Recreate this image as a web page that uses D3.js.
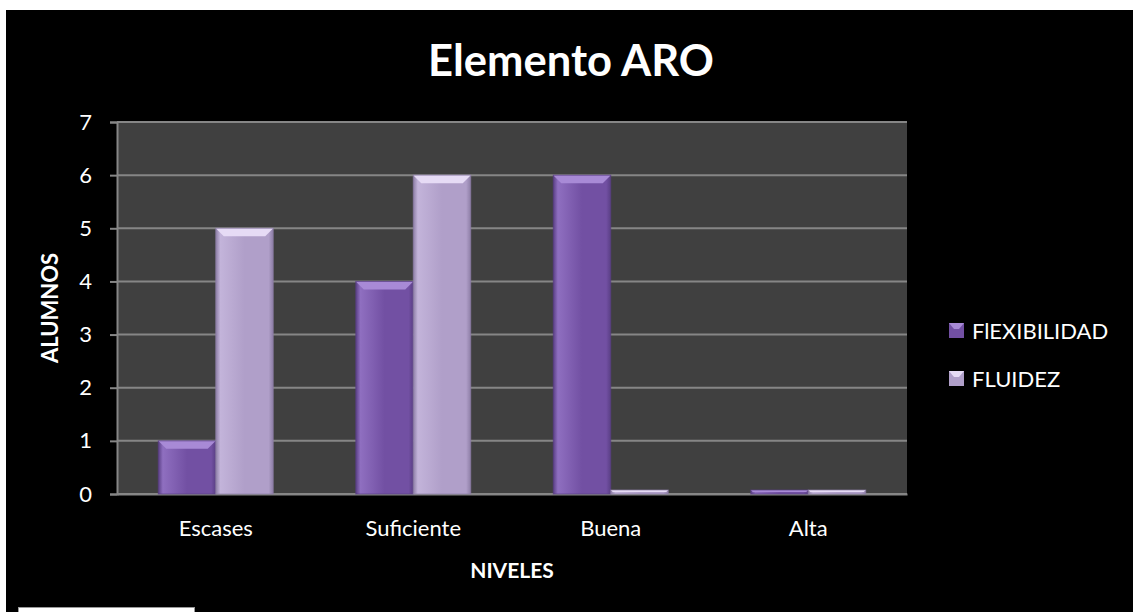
<!DOCTYPE html>
<html><head><meta charset="utf-8">
<script src="https://cdn.jsdelivr.net/npm/d3@7/dist/d3.min.js"></script>
<style>
html,body{margin:0;padding:0;background:#fff;}
svg{display:block;font-family:Lato,"Open Sans",sans-serif;}
</style></head>
<body><svg id="c" width="1133" height="612"></svg>
<script>
const categories = ["Escases","Suficiente","Buena","Alta"];
const seriesNames = ["FlEXIBILIDAD","FLUIDEZ"];
const flexibilidad = [1,4,6,0];
const fluidez = [5,6,0,0];
const yTicks = [0,1,2,3,4,5,6,7];
const title = "Elemento ARO";
const xTitle = "NIVELES";
const yTitle = "ALUMNOS";

const svg = d3.select("#c");
svg.append("rect").attr("x",6).attr("y",10).attr("width",1127).attr("height",602).attr("fill","#000");
svg.append("rect").attr("x",18.5).attr("y",607.5).attr("width",176).attr("height",10).attr("fill","#fff").attr("stroke","#999").attr("stroke-width",1);

const L=117,R=907,T=122,B=494;
const x = d3.scaleBand().domain(categories).range([L,R]).paddingInner(0.418).paddingOuter(0.209);
const xs = d3.scaleBand().domain(seriesNames).range([0,x.bandwidth()]);
const y = d3.scaleLinear().domain([0,7]).range([B,T]);

const defs = svg.append("defs");
const palettes = {
  "FlEXIBILIDAD": {base:"#7250a3", light:"#8f6fc0", dark:"#5a3f85", top:"#a88ad6"},
  "FLUIDEZ": {base:"#b09fc9", light:"#c3b4da", dark:"#8d7ea6", top:"#e6dbf5"}
};
seriesNames.forEach((s,i)=>{
  const p=palettes[s];
  const g=defs.append("linearGradient").attr("id","g"+i).attr("x1",0).attr("x2",1).attr("y1",0).attr("y2",0);
  g.append("stop").attr("offset","0").attr("stop-color",p.dark);
  g.append("stop").attr("offset","0.08").attr("stop-color",p.light);
  g.append("stop").attr("offset","0.5").attr("stop-color",p.base);
  g.append("stop").attr("offset","0.92").attr("stop-color",p.base);
  g.append("stop").attr("offset","1").attr("stop-color",p.dark);
});

svg.append("rect").attr("x",L).attr("y",T).attr("width",R-L).attr("height",B-T).attr("fill","#404040");

svg.append("g").selectAll("line").data(yTicks).join("line")
  .attr("x1",L).attr("x2",R).attr("y1",d=>y(d)).attr("y2",d=>y(d))
  .attr("stroke","#868686").attr("stroke-width",2);

const yAxis = svg.append("g").attr("transform",`translate(${L},0)`)
  .call(d3.axisLeft(y).tickValues(yTicks).tickSize(7).tickPadding(18).tickFormat(d3.format("d")));
yAxis.select(".domain").attr("stroke","#868686").attr("stroke-width",2);
yAxis.selectAll(".tick line").attr("stroke","#868686").attr("stroke-width",2);
yAxis.selectAll(".tick text").attr("fill","#fff").attr("font-size",22).attr("font-family","Lato");

const xAxis = svg.append("g").attr("transform",`translate(0,${B})`)
  .call(d3.axisBottom(x).tickSize(0).tickPadding(26));
xAxis.select(".domain").attr("stroke","#868686").attr("stroke-width",2);
xAxis.selectAll(".tick text").attr("fill","#fff").attr("font-size",22).attr("font-family","Lato");

const data = [];
categories.forEach((c,ci)=>{
  data.push({c, s:seriesNames[0], v:flexibilidad[ci], i:0});
  data.push({c, s:seriesNames[1], v:fluidez[ci], i:1});
});
const bars = svg.append("g").selectAll("g").data(data).join("g");
bars.each(function(d){
  const g=d3.select(this);
  const bx=x(d.c)+xs(d.s), bw=xs.bandwidth();
  const minH=4;
  const y0=y(0), y1=Math.min(y(d.v), y0-minH);
  const h=y0-y1;
  const p=palettes[d.s];
  g.append("rect").attr("x",bx).attr("y",y1).attr("width",bw).attr("height",h).attr("fill",`url(#g${d.i})`);
  const bev=Math.min(8,h/2);
  g.append("path").attr("d",`M${bx},${y1}L${bx+bw},${y1}L${bx+bw-bev},${y1+bev}L${bx+bev},${y1+bev}Z`).attr("fill",p.top);
  g.append("rect").attr("x",bx).attr("y",y1).attr("width",bw).attr("height",h).attr("fill","none").attr("stroke",p.dark).attr("stroke-width",1).attr("opacity",0.7);
});

svg.append("text").attr("x",571).attr("y",76).attr("text-anchor","middle").attr("fill","#fff")
  .attr("font-size",43.5).attr("font-weight","bold").text(title);
svg.append("text").attr("x",(L+R)/2).attr("y",578).attr("text-anchor","middle").attr("fill","#fff")
  .attr("font-size",21).attr("font-weight","bold").text(xTitle);
svg.append("text").attr("transform",`translate(58,${(T+B)/2}) rotate(-90)`).attr("text-anchor","middle").attr("fill","#fff")
  .attr("font-size",22).attr("font-weight","bold").text(yTitle);

const leg = svg.append("g").selectAll("g").data(seriesNames).join("g")
  .attr("transform",(d,i)=>`translate(949,${331+i*48})`);
leg.each(function(d,i){
  const g=d3.select(this), p=palettes[d];
  g.append("rect").attr("x",0).attr("y",-8).attr("width",15).attr("height",15).attr("fill",p.base);
  g.append("path").attr("d","M0,-8L15,-8L10,-2L5,-2Z").attr("fill",p.top);
  g.append("text").attr("x",23).attr("y",8).attr("fill","#fff").attr("font-size",22).text(d);
});
</script></body></html>
